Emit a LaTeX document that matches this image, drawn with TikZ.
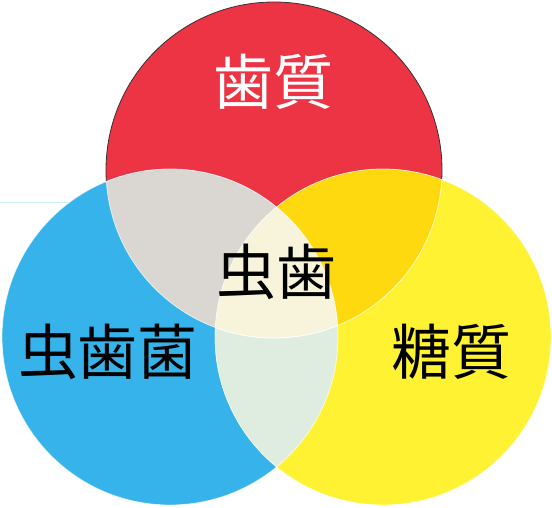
\documentclass[tikz,border=0pt]{standalone}
\usepackage{fontspec}
\newfontfamily\cjk{Noto Sans CJK JP}
\definecolor{enamelred}{HTML}{EC3445}
\definecolor{germblue}{HTML}{35B3EA}
\definecolor{sugaryellow}{HTML}{FFF232}
\definecolor{redblue}{HTML}{DAD6D1}
\definecolor{redyellow}{HTML}{FFD90F}
\definecolor{blueyellow}{HTML}{DEEDE0}
\definecolor{allthree}{HTML}{F7F4DB}
\definecolor{strayline}{HTML}{CDEFFB}
\def\rad{168}
\newcommand{\overlap}[3]{
    % fill the part that two circles share
    \begin{scope}
        \clip (#1) circle [radius=\rad];
        \fill[#3] (#2) circle [radius=\rad];
    \end{scope}
}
\tikzset{
    label/.style={font=\cjk\fontsize{60}{62}\selectfont, inner sep=0pt},
    seam/.style={draw=white, opacity=0.7, line width=0.8pt}
}
\begin{document}
\begin{tikzpicture}[x=1pt, y=-1pt]
    \useasboundingbox (0,0) rectangle (552,507);
    \coordinate (enamel) at (274,170);
    \coordinate (germ) at (170,337);
    \coordinate (sugar) at (383,337);

    % Circles
    \fill[enamelred] (enamel) circle [radius=\rad];
    \draw[black!80, line width=0.8pt] (enamel) circle [radius=\rad];
    \fill[germblue] (germ) circle [radius=\rad];
    \fill[sugaryellow] (sugar) circle [radius=\rad];

    % Overlaps
    \overlap{enamel}{germ}{redblue}
    \overlap{enamel}{sugar}{redyellow}
    \overlap{germ}{sugar}{blueyellow}
    \begin{scope}
        \clip (enamel) circle [radius=\rad];
        \clip (germ) circle [radius=\rad];
        \fill[allthree] (sugar) circle [radius=\rad];
    \end{scope}

    % Seams
    \draw[seam] (germ) circle [radius=\rad];
    \draw[seam] (sugar) circle [radius=\rad];
    \begin{scope}
        \clip (germ) circle [radius=\rad];
        \draw[seam] (enamel) circle [radius=\rad];
    \end{scope}
    \begin{scope}
        \clip (sugar) circle [radius=\rad];
        \draw[seam] (enamel) circle [radius=\rad];
    \end{scope}

    \coordinate (stray) at (70,202);
    \draw[strayline, line width=0.8pt] (0,202) -- (stray);

    % Labels
    \node[label, text=white] (enamellabel) at (273,82) {歯質};
    \node[label] (caries) at (276,272) {虫歯};
    \node[label] (germlabel) at (108,352) {虫歯菌};
    \node[label] (sugarlabel) at (451,352) {糖質};
\end{tikzpicture}
\end{document}
